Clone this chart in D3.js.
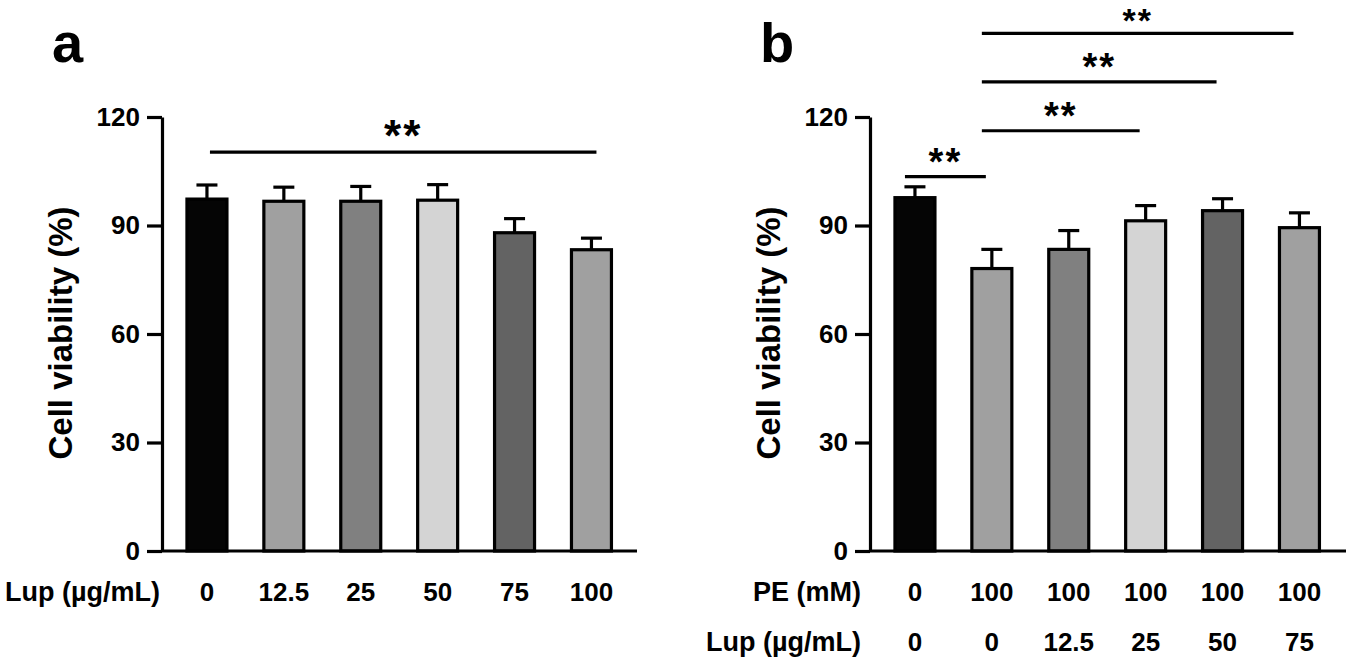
<!DOCTYPE html>
<html>
<head>
<meta charset="utf-8">
<script src="https://cdn.jsdelivr.net/npm/d3@7"></script>
<style>
  body { margin: 0; background: #fff; }
  text { font-family: "Liberation Sans", Arial, sans-serif; font-weight: bold; fill: #000; }
</style>
</head>
<body>
<div id="chart"></div>
<script>
// Data
var doseA = ["0", "12.5", "25", "50", "75", "100"];
var meanA = [97.3, 96.7, 96.7, 97.0, 88.0, 83.3];
var sdA = [3.9, 3.9, 4.1, 4.3, 3.9, 3.2];

var peB = ["0", "100", "100", "100", "100", "100"];
var lupB = ["0", "0", "12.5", "25", "50", "75"];
var meanB = [97.7, 78.1, 83.4, 91.3, 94.1, 89.4];
var sdB = [3.0, 5.3, 5.2, 4.2, 3.3, 4.1];

// significance brackets: [from bar, to bar, height in % units]
var sigA = [[0, 5, 110.3]];
var sigB = [[0, 1, 103.5], [1, 3, 116.2], [1, 4, 129.7], [1, 5, 143.1]];

var yTicks = [0, 30, 60, 90, 120];
var fills = ["#050505", "#a0a0a0", "#808080", "#d4d4d4", "#636363", "#a0a0a0"];

var svgWidth = 1346;
var svgHeight = 658;

var svg = d3.select("#chart")
    .append("svg")
    .attr("width", svgWidth)
    .attr("height", svgHeight);

var yScale = d3.scaleLinear()
    .domain([0, 120])
    .range([551, 117]);

function drawPanel(opt) {
    var g = svg.append("g");
    var n = opt.means.length;
    var x = d3.scaleBand()
        .domain(d3.range(n))
        .range([opt.axisX + 6.5, opt.axisX + 6.5 + 6 * 76.9])
        .paddingInner(0.48)
        .paddingOuter(0.24);
    var cx = i => x(i) + x.bandwidth() / 2;

    // bars
    g.selectAll("rect.bar")
        .data(opt.means)
        .enter()
        .append("rect")
        .attr("class", "bar")
        .attr("x", (d, i) => x(i))
        .attr("y", d => yScale(d))
        .attr("width", x.bandwidth())
        .attr("height", d => yScale(0) - yScale(d))
        .attr("fill", (d, i) => fills[i])
        .attr("stroke", "#000")
        .attr("stroke-width", 3.2);

    // error bars (upper only)
    g.selectAll("line.err")
        .data(opt.means)
        .enter()
        .append("line")
        .attr("x1", (d, i) => cx(i))
        .attr("x2", (d, i) => cx(i))
        .attr("y1", d => yScale(d))
        .attr("y2", (d, i) => yScale(d + opt.sds[i]))
        .attr("stroke", "#000")
        .attr("stroke-width", 3.2);
    g.selectAll("line.cap")
        .data(opt.means)
        .enter()
        .append("line")
        .attr("x1", (d, i) => cx(i) - 10.5)
        .attr("x2", (d, i) => cx(i) + 10.5)
        .attr("y1", (d, i) => yScale(d + opt.sds[i]))
        .attr("y2", (d, i) => yScale(d + opt.sds[i]))
        .attr("stroke", "#000")
        .attr("stroke-width", 3.2);

    // y axis
    var leftAxis = d3.axisLeft(yScale)
        .tickValues(yTicks)
        .tickSize(15)
        .tickSizeOuter(0)
        .tickPadding(7);
    var yAxisG = g.append("g")
        .attr("transform", `translate(${opt.axisX}, 0)`)
        .call(leftAxis);
    yAxisG.selectAll("path, line").attr("stroke", "#000").attr("stroke-width", 3.2);
    yAxisG.selectAll("text").style("font-size", "26px").attr("fill", "#000");

    // baseline
    g.append("line")
        .attr("x1", opt.axisX)
        .attr("x2", opt.axisEnd)
        .attr("y1", yScale(0))
        .attr("y2", yScale(0))
        .attr("stroke", "#000")
        .attr("stroke-width", 3.2);

    // category label rows
    opt.rows.forEach(function(row, r) {
        var bottomAxis = d3.axisBottom(x)
            .tickSize(0)
            .tickPadding(32 + r * 50)
            .tickFormat(i => row.labels[i]);
        var xg = g.append("g")
            .attr("transform", `translate(0, ${yScale(0)})`)
            .call(bottomAxis);
        xg.select(".domain").remove();
        xg.selectAll("text").style("font-size", "26px").attr("fill", "#000");

        g.append("text")
            .attr("x", opt.rowLabelX)
            .attr("y", 601 + r * 50)
            .attr("text-anchor", "end")
            .style("font-size", "27px")
            .text(row.name);
    });

    // y title
    g.append("text")
        .attr("transform", `translate(${opt.axisX - 90}, 333) rotate(-90)`)
        .attr("text-anchor", "middle")
        .style("font-size", "33px")
        .text("Cell viability (%)");

    // panel letter
    g.append("text")
        .attr("x", opt.axisX - 110)
        .attr("y", 62)
        .style("font-size", "56px")
        .text(opt.letter);

    // significance brackets
    opt.sig.forEach(function(s, k) {
        var x1 = cx(s[0]) + opt.sigOff[0];
        var x2 = cx(s[1]) + opt.sigOff[1];
        var yy = yScale(s[2]);
        g.append("line")
            .attr("x1", x1)
            .attr("x2", x2)
            .attr("y1", yy)
            .attr("y2", yy)
            .attr("stroke", "#000")
            .attr("stroke-width", 3.2);
        g.append("text")
            .attr("x", (x1 + x2) / 2)
            .attr("y", yy - 1.5)
            .attr("text-anchor", "middle")
            .style("font-size", opt.starSize[k] + "px")
            .style("letter-spacing", "2px")
            .text("**");
    });
}

drawPanel({
    letter: "a",
    axisX: 162,
    axisEnd: 637,
    means: meanA,
    sds: sdA,
    rows: [{ name: "Lup (µg/mL)", labels: doseA }],
    rowLabelX: 160,
    sig: sigA,
    sigOff: [3, 5],
    starSize: [44]
});

drawPanel({
    letter: "b",
    axisX: 870,
    axisEnd: 1346,
    means: meanB,
    sds: sdB,
    rows: [{ name: "PE (mM)", labels: peB }, { name: "Lup (µg/mL)", labels: lupB }],
    rowLabelX: 861,
    sig: sigB,
    sigOff: [-10, -6],
    starSize: [38, 38, 38, 34]
});
</script>
</body>
</html>
